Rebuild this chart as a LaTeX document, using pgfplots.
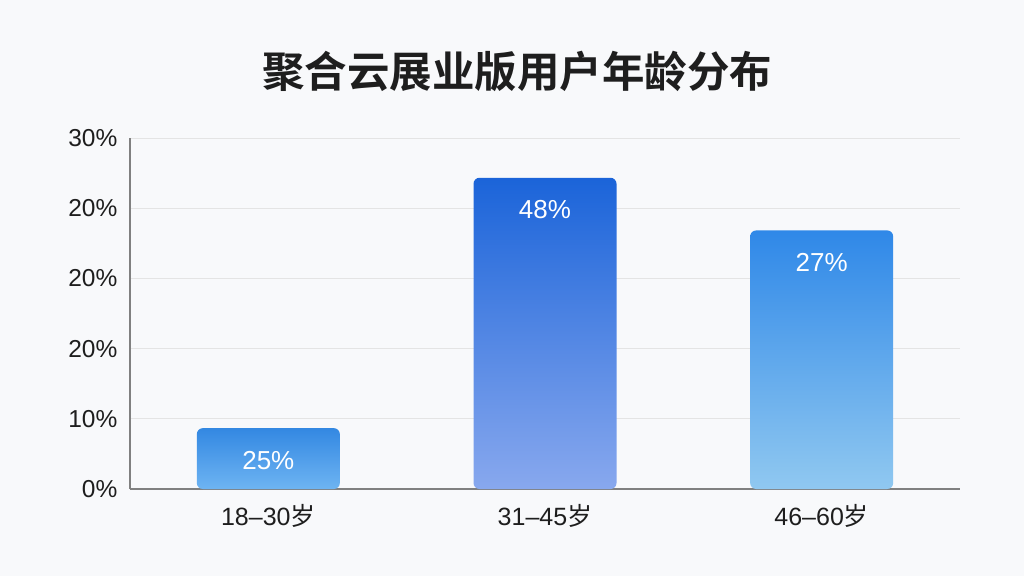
\documentclass[border=0pt]{standalone}
\usepackage{pgfplots}
\pgfplotsset{compat=1.18}
\usepackage{fontspec}
\setmainfont{Liberation Sans}
\newfontfamily\cjk{Noto Sans CJK SC}
\newfontfamily\cjkb{Noto Sans CJK SC Bold}
\definecolor{bgc}{HTML}{F8F9FB}
\definecolor{gridc}{HTML}{E4E4E4}
\definecolor{axc}{HTML}{808080}
\definecolor{txt}{HTML}{1E1E1E}
\begin{document}
\begin{tikzpicture}[x=1pt,y=1pt]
\fill[bgc] (0,0) rectangle (1024,576);
\node[font=\cjkb\fontsize{42.5}{42.5}\selectfont, text=txt] at (517,505) {聚合云展业版用户年龄分布};
\begin{axis}[
  at={(130pt,87pt)}, anchor=south west,
  scale only axis, width=830pt, height=351pt,
  xmin=-0.5, xmax=2.5, ymin=0, ymax=30,
  axis x line=bottom, axis y line=left,
  axis line style={-, axc, line width=1.1pt},
  xtick={0,1,2}, xticklabels={18–30{\cjk 岁},31–45{\cjk 岁},46–60{\cjk 岁}},
  x tick label style={font=\fontsize{25}{25}\selectfont, text=txt, yshift=-8pt},
  major x tick style={draw=none},
  extra x ticks={0.5,1.5}, extra x tick labels={},
  extra x tick style={tick align=inside, major tick length=6pt, tick style={draw=axc, line width=0.8pt}},
  ytick={0,6,12,18,24,30},
  yticklabels={0\%,10\%,20\%,20\%,20\%,30\%},
  y tick label style={font=\fontsize{24.5}{24.5}\selectfont, text=txt, xshift=-7pt},
  major y tick style={draw=none},
  ymajorgrids, grid style={gridc, line width=0.9pt},
  ybar, bar width=143pt, bar shift=0pt,
  nodes near coords, point meta=explicit symbolic,
  every node near coord/.append style={anchor=center, yshift=-32pt, text=white, font=\fontsize{26}{26}\selectfont},
  clip=false,
]
\addplot[draw=none, top color={rgb,255:red,51;green,136;blue,226}, bottom color={rgb,255:red,110;green,180;blue,242}, rounded corners=6pt] coordinates {(0,5.2) [25\%]};
\addplot[draw=none, top color={rgb,255:red,27;green,100;blue,217}, bottom color={rgb,255:red,136;green,168;blue,238}, rounded corners=6pt] coordinates {(1,26.6) [48\%]};
\addplot[draw=none, top color={rgb,255:red,47;green,136;blue,232}, bottom color={rgb,255:red,144;green,200;blue,240}, rounded corners=6pt] coordinates {(2,22.1) [27\%]};
\end{axis}
\end{tikzpicture}
\end{document}
